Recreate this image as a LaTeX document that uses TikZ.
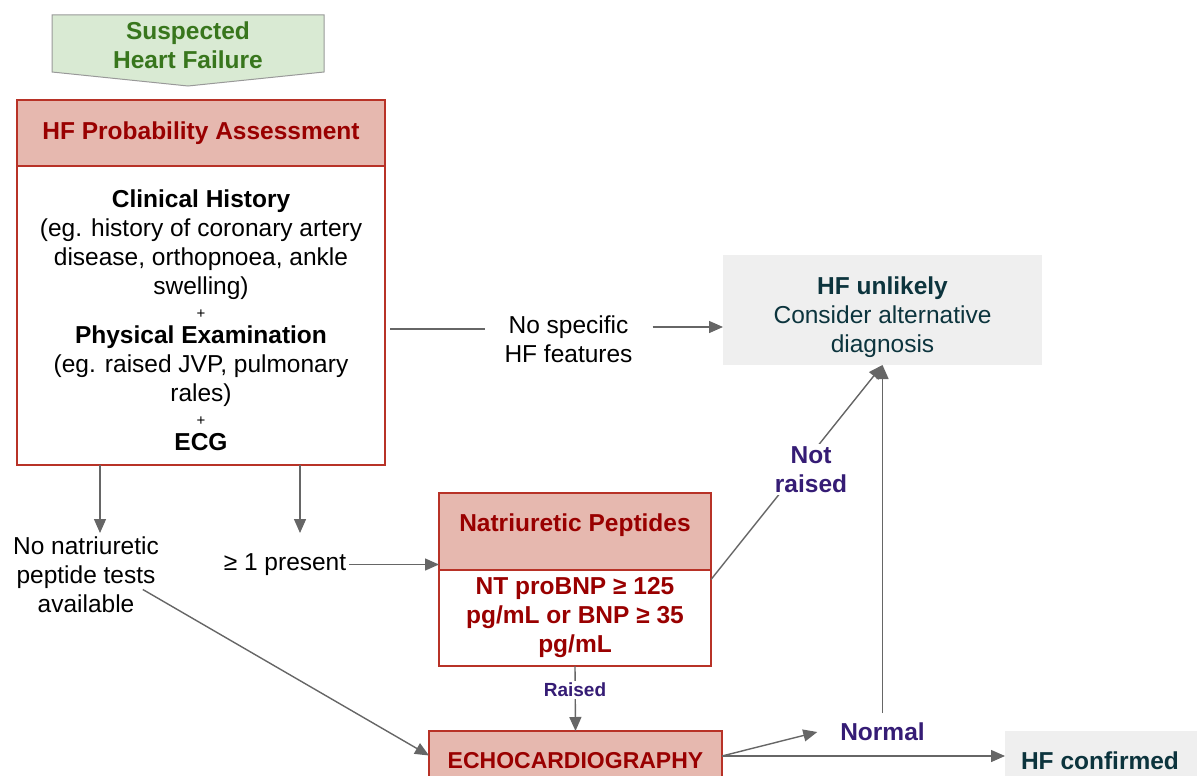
\documentclass[tikz,border=0pt]{standalone}
\usepackage{fontspec}
\setmainfont{Liberation Sans}
\usetikzlibrary{arrows.meta,calc}
\definecolor{hfgreen}{HTML}{38761D}
\definecolor{hfgreenfill}{HTML}{D9EAD3}
\definecolor{hfgreenline}{HTML}{999999}
\definecolor{hfred}{HTML}{990000}
\definecolor{hfredfill}{HTML}{E6B8AF}
\definecolor{hfredline}{HTML}{B83227}
\definecolor{hfgrayfill}{HTML}{EFEFEF}
\definecolor{hfteal}{HTML}{0C343D}
\definecolor{hfpurple}{HTML}{351C75}
\definecolor{hfarrow}{HTML}{666666}
\begin{document}
\begin{tikzpicture}[x=1pt,y=-1pt,
  every node/.style={inner sep=0pt, outer sep=0pt},
  txt/.style={align=center,font=\fontsize{24.5}{29}\selectfont},
  btxt/.style={align=center,font=\fontsize{24.5}{29}\selectfont\bfseries},
  redbox/.style={draw=hfredline, line width=1.5pt},
  redhead/.style={draw=hfredline, fill=hfredfill, line width=1.5pt},
  graybox/.style={fill=hfgrayfill},
  lab/.style={align=center, text=hfpurple, fill=white, inner sep=2pt},
  lineonly/.style={draw=hfarrow, line width=1.4pt},
  conn/.style={lineonly, -{Triangle[length=14pt,width=12pt]}}
]
\useasboundingbox (0,0) rectangle (1200,776);
\clip (0,0) rectangle (1200,776);

% Suspected heart failure
\draw[draw=hfgreenline, fill=hfgreenfill, line width=1pt]
  (52,15) -- (324,15) -- (324,72) -- (188,86) -- (52,72) -- cycle;
\node[btxt, text=hfgreen] (shf) at (188,45) {Suspected\\Heart Failure};

% HF probability assessment
\node[redbox, minimum width=368pt, minimum height=299pt] (hfabody) at (201,315.5) {};
\node[redhead, minimum width=368pt, minimum height=66pt, btxt, text=hfred] (hfahead) at (201,133) {HF Probability Assessment};
\node[txt] (hfatext) at (201,320) {\textbf{Clinical History}\\
(eg. history of coronary artery\\
disease, orthopnoea, ankle\\
swelling)\\[-4.5pt]
{\fontsize{15}{16}\selectfont +}\\[-4.5pt]
\textbf{Physical Examination}\\
(eg. raised JVP, pulmonary\\
rales)\\[-4.5pt]
{\fontsize{15}{16}\selectfont +}\\[-4.5pt]
\textbf{ECG}};

% No specific features
\node[txt, inner xsep=20pt] (nospec) at (568.5,339) {No specific\\HF features};

% HF unlikely
\node[graybox, minimum width=319pt, minimum height=110pt] (hfu) at (882.5,310) {};
\node[txt, text=hfteal] (hfutext) at (882.5,317.5) {\textbf{HF unlikely}\\Consider alternative\\diagnosis};

% branch texts
\node[txt] (nonat) at (86,574.5) {No natriuretic\\peptide tests\\available};
\node[txt, inner xsep=3pt] (onep) at (285,564.5) {≥ 1 present};
\coordinate (nonattip) at (100,533);
\coordinate (oneptip) at (300,533);

% Natriuretic peptides
\node[redbox, minimum width=272pt, minimum height=173pt] (np) at (575,579.5) {};
\node[redhead, minimum width=272pt, minimum height=77pt] (nphead) at (575,531.5) {};
\node[btxt, text=hfred] (nptitle) at (575,525) {Natriuretic Peptides};
\node[btxt, text=hfred] (nptext) at (575,618) {NT proBNP ≥ 125\\pg/mL or BNP ≥ 35\\pg/mL};

% Echocardiography
\node[redhead, minimum width=293pt, minimum height=69pt] (echo) at (575.5,765.5) {};
\node[font=\fontsize{23}{28}\selectfont\bfseries, text=hfred] (echotext) at (575.5,760.5) {ECHOCARDIOGRAPHY};

% HF confirmed
\node[graybox, minimum width=192pt, minimum height=69pt] (hfc) at (1101,765.5) {};
\node[btxt, text=hfteal] (hfctext) at (1100,761) {HF confirmed};

% Normal
\node[btxt, text=hfpurple] (normal) at (882.5,732) {Normal};

% connectors
\draw[lineonly] ($(hfabody.east |- 0,329)+(5,0)$) -- (nospec.west |- 0,329);
\draw[conn] (nospec.east |- 0,327) -- (hfu.west |- 0,327);
\draw[conn] (hfabody.south -| nonattip) -- (nonattip);
\draw[conn] (hfabody.south -| oneptip) -- (oneptip);
\draw[conn] (onep.east) -- (onep.east -| np.west);
\draw[conn] ($(nonat.east)+(-16,15)$) -- ($(echo.west)+(0,-10)$);
\draw[conn] (np.south) -- (echo.north);
\draw[conn] (np.east) -- (hfu.south);
\draw[conn] ($(normal.north)+(0,-10)$) -- (hfu.south);
\draw[conn] ($(echo.east)+(0,-9.5)$) -- ($(normal.west)+(-23,0)$);
\draw[conn] ($(echo.east)+(0,-9.5)$) -- ($(hfc.west)+(0,-9.5)$);

% labels on connectors
\node[lab, font=\fontsize{19}{23}\selectfont\bfseries] (raised) at (575,690) {Raised};
\node[lab, font=\fontsize{24.5}{29}\selectfont\bfseries] (notr) at (811,469.5) {Not\\raised};
\end{tikzpicture}
\end{document}
